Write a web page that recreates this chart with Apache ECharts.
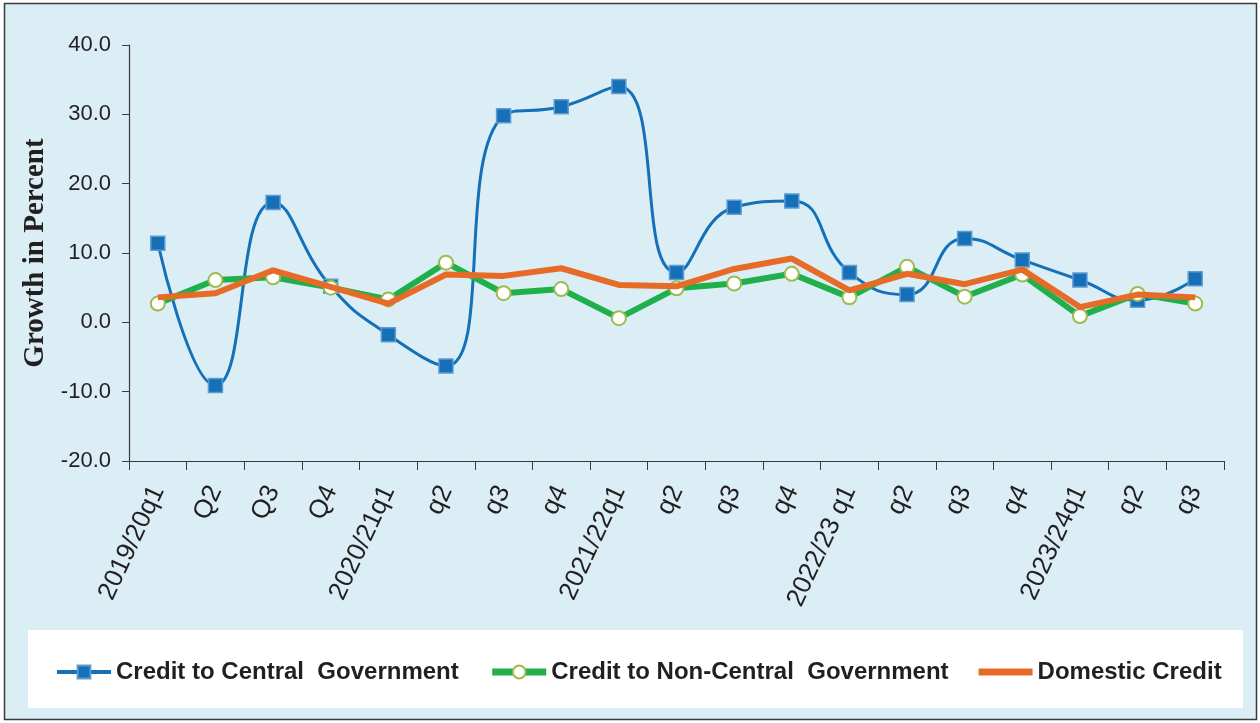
<!DOCTYPE html>
<html>
<head>
<meta charset="utf-8">
<script src="https://cdn.jsdelivr.net/npm/echarts@6/dist/echarts.min.js"></script>
<style>
  html, body { margin: 0; padding: 0; background: #ffffff; }
  #chart { width: 1260px; height: 723px; }
</style>
</head>
<body>
<div id="chart"></div>
<script>
// Quarterly periods
const categories = [
  '2019/20q1', 'Q2', 'Q3', 'Q4',
  '2020/21q1', 'q2', 'q3', 'q4',
  '2021/22q1', 'q2', 'q3', 'q4',
  '2022/23 q1', 'q2', 'q3', 'q4',
  '2023/24q1', 'q2', 'q3'
];

// Growth rates in percent
const centralGov = [11.4, -9.1, 17.3, 5.2, -1.8, -6.3, 29.8, 31.1, 34.0, 7.2, 16.6, 17.5, 7.2, 4.0, 12.1, 9.0, 6.1, 3.2, 6.3];
const nonCentralGov = [2.7, 6.1, 6.5, 5.0, 3.3, 8.6, 4.2, 4.8, 0.6, 4.9, 5.6, 7.0, 3.6, 8.0, 3.7, 6.9, 0.9, 4.1, 2.7];
const domesticCredit = [3.6, 4.2, 7.5, 5.1, 2.7, 6.9, 6.7, 7.8, 5.4, 5.2, 7.7, 9.2, 4.6, 7.0, 5.5, 7.6, 2.2, 4.0, 3.6];

const seriesNames = ['Credit to Central  Government', 'Credit to Non-Central  Government', 'Domestic Credit'];

const textColor = '#231f20';
const axisColor = '#3a3a3a';
const blue = '#1570b8';
const green = '#1fb04c';
const orange = '#e66b26';

const chart = echarts.init(document.getElementById('chart'), null, { renderer: 'canvas' });

chart.setOption({
  animation: false,
  backgroundColor: '#ffffff',
  graphic: [
    {
      // panel background with thin frame
      type: 'rect', z: -10, silent: true,
      shape: { x: 4.5, y: 3.5, width: 1252, height: 716 },
      style: { fill: '#dbeef6', stroke: axisColor, lineWidth: 1.5 }
    },
    {
      // white legend band
      type: 'rect', z: -9, silent: true,
      shape: { x: 28, y: 630, width: 1215, height: 78 },
      style: { fill: '#ffffff' }
    }
  ],
  grid: { left: 129, right: 36, top: 45, bottom: 262, containLabel: false },
  legend: {
    left: 50,
    top: 655,
    itemWidth: 54,
    itemHeight: 16,
    itemGap: 30,
    textStyle: { color: textColor, fontFamily: 'Liberation Sans', fontWeight: 'bold', fontSize: 24 },
    data: [
      { name: seriesNames[0], lineStyle: { width: 4 } },
      { name: seriesNames[1], lineStyle: { width: 7 } },
      { name: seriesNames[2], icon: 'path://M0,0 L54,0 L54,7 L0,7 Z', itemStyle: { color: orange } }
    ]
  },
  xAxis: {
    type: 'category',
    data: categories,
    boundaryGap: true,
    axisLine: { onZero: false, lineStyle: { color: axisColor, width: 1.2 } },
    axisTick: { show: true, length: 9, lineStyle: { color: axisColor } },
    axisLabel: {
      interval: 0, rotate: 65, margin: 26,
      color: textColor, fontFamily: 'Liberation Sans', fontSize: 26
    }
  },
  yAxis: {
    type: 'value',
    min: -20, max: 40, interval: 10,
    name: 'Growth in Percent',
    nameLocation: 'middle',
    nameGap: 75,
    nameRotate: 90,
    nameTextStyle: { color: textColor, fontFamily: 'Liberation Serif', fontWeight: 'bold', fontSize: 29 },
    axisLine: { show: true, lineStyle: { color: axisColor, width: 1.2 } },
    axisTick: { show: true, length: 7, lineStyle: { color: axisColor } },
    splitLine: { show: false },
    axisLabel: {
      margin: 18,
      color: textColor, fontFamily: 'Liberation Sans', fontSize: 22,
      formatter: v => v.toFixed(1)
    }
  },
  series: [
    {
      name: seriesNames[0],
      type: 'line',
      data: centralGov,
      smooth: 0.5,
      symbol: 'rect',
      symbolSize: 14,
      showAllSymbol: true,
      lineStyle: { color: blue, width: 3 },
      itemStyle: { color: blue, borderColor: '#5f9bd1', borderWidth: 1.5 },
      z: 3
    },
    {
      name: seriesNames[1],
      type: 'line',
      data: nonCentralGov,
      symbol: 'circle',
      symbolSize: 14,
      showAllSymbol: true,
      lineStyle: { color: green, width: 6 },
      itemStyle: { color: '#ffffff', borderColor: '#9dbb4f', borderWidth: 2 },
      z: 4
    },
    {
      name: seriesNames[2],
      type: 'line',
      data: domesticCredit,
      symbol: 'none',
      lineStyle: { color: orange, width: 6 },
      itemStyle: { color: orange },
      z: 5
    }
  ]
});
</script>
</body>
</html>
